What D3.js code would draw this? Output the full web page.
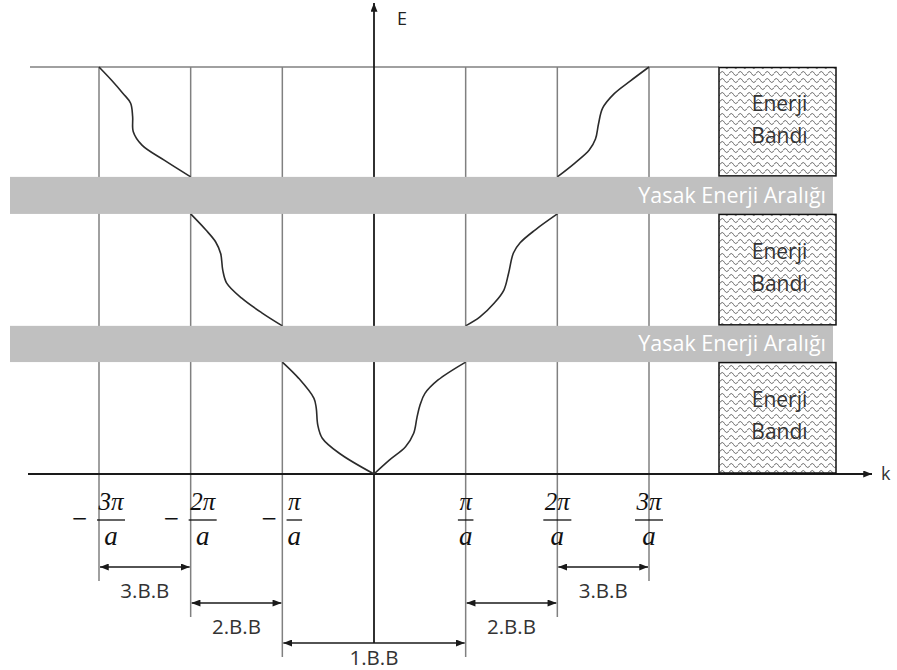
<!DOCTYPE html>
<html>
<head>
<meta charset="utf-8">
<script src="https://cdn.jsdelivr.net/npm/d3@7"></script>
<style>
  html, body { margin: 0; padding: 0; background: #fff; }
  svg { display: block; }
</style>
</head>
<body>
<script>
// Wave vector k in units of π/a, energy E in arbitrary units (0..100)
const zoneBoundaries = [-3, -2, -1, 1, 2, 3];

// Allowed energy bands [bottom, top] and forbidden gaps between them
const allowedBands = [[0, 27.5], [36.4, 63.9], [73, 100]];
const forbiddenGaps = [[27.5, 36.4], [63.9, 73]];
const gapLabel = "Yasak Enerji Aralığı";
const bandLabel = ["Enerji", "Bandı"];

// E(k) branches, one per band and side: [k, E]
const band1Left  = [[-1, 27.5], [-0.821, 23.5], [-0.655, 18.6], [-0.63, 16.2], [-0.613, 12.0], [-0.564, 8.8], [-0.379, 5.1], [0, 0]];
const band1Right = [[0, 0], [0.167, 3.4], [0.344, 6.7], [0.433, 10.0], [0.468, 13.8], [0.503, 17.0], [0.556, 19.8], [0.699, 23.1], [1, 27.5]];
const band2Left  = [[-2, 63.9], [-1.836, 60.0], [-1.727, 57.0], [-1.672, 54.1], [-1.65, 50.1], [-1.607, 46.9], [-1.443, 43.2], [-1.224, 39.6], [-1, 36.4]];
const band2Right = [[1, 36.4], [1.156, 38.6], [1.3125, 42.0], [1.417, 45.2], [1.469, 49.4], [1.521, 54.3], [1.594, 56.8], [1.76, 60.0], [2, 63.9]];
const band3Left  = [[-3, 100], [-2.865, 96.8], [-2.738, 93.5], [-2.655, 91.1], [-2.633, 87.8], [-2.626, 84.1], [-2.531, 80.8], [-2.289, 77.1], [-2, 73]];
const band3Right = [[2, 73], [2.191, 76.4], [2.348, 79.6], [2.416, 82.3], [2.449, 86.0], [2.494, 89.9], [2.618, 93.4], [2.798, 96.6], [3, 100]];
const branches = [band1Left, band1Right, band2Left, band2Right, band3Left, band3Right];

// Brillouin zones: label, k range, dimension row
const zoneNames = ["3.B.B", "2.B.B", "1.B.B", "2.B.B", "3.B.B"];
const zoneFrom  = [-3, -2, -1, 1, 2];
const zoneTo    = [-2, -1, 1, 2, 3];
const zoneRow   = [0, 1, 2, 1, 0];

const W = 897, H = 670;
const svg = d3.select("body").append("svg").attr("width", W).attr("height", H);

const x = d3.scaleLinear().domain([-3, 3]).range([99, 649]);
const y = d3.scaleLinear().domain([0, 100]).range([474, 67]);

const rowY = [567, 603, 643];
const boxX = 719, boxW = 117;
const gridColor = "#808080";
const ink = "#1a1a1a";
const sans = "Open Sans";

const defs = svg.append("defs");
defs.append("marker")
  .attr("id", "head")
  .attr("viewBox", "0 0 10 8")
  .attr("refX", 10).attr("refY", 4)
  .attr("markerWidth", 9).attr("markerHeight", 7)
  .attr("markerUnits", "userSpaceOnUse")
  .attr("orient", "auto-start-reverse")
  .append("path").attr("d", "M0,0 L10,4 L0,8 Z").attr("fill", ink);

const wave = defs.append("pattern")
  .attr("id", "wave").attr("patternUnits", "userSpaceOnUse")
  .attr("width", 9).attr("height", 7);
wave.append("path")
  .attr("d", "M0,3.5 Q2.25,-0.5 4.5,3.5 T9,3.5")
  .attr("fill", "none").attr("stroke", "#5a5a5a").attr("stroke-width", 0.9);

// Zone-boundary grid lines, reaching down past their dimension arrows
const lowestRow = k => d3.max(zoneRow.filter((r, i) => zoneFrom[i] === k || zoneTo[i] === k));
svg.append("g").selectAll("line").data(zoneBoundaries).join("line")
  .attr("x1", d => x(d)).attr("x2", d => x(d))
  .attr("y1", y(100)).attr("y2", d => rowY[lowestRow(d)] + 14)
  .attr("stroke", gridColor).attr("stroke-width", 1.5);

// Top energy line
svg.append("line")
  .attr("x1", 30).attr("x2", boxX).attr("y1", y(100)).attr("y2", y(100))
  .attr("stroke", gridColor).attr("stroke-width", 1.5);

// Axes
svg.append("line")
  .attr("x1", 28).attr("x2", 872).attr("y1", y(0)).attr("y2", y(0))
  .attr("stroke", ink).attr("stroke-width", 1.8)
  .attr("marker-end", "url(#head)");
svg.append("line")
  .attr("x1", x(0)).attr("x2", x(0)).attr("y1", rowY[2]).attr("y2", 3)
  .attr("stroke", ink).attr("stroke-width", 1.8)
  .attr("marker-end", "url(#head)");
svg.append("text").attr("x", x(0) + 23).attr("y", 25)
  .attr("font-family", sans).attr("font-size", 18).attr("fill", "#222").text("E");
svg.append("text").attr("x", 881).attr("y", 480)
  .attr("font-family", sans).attr("font-size", 18).attr("fill", "#333").text("k");

// E(k) curves
const line = d3.line().x(d => x(d[0])).y(d => y(d[1])).curve(d3.curveCatmullRom.alpha(0.5));
svg.append("g").selectAll("path").data(branches).join("path")
  .attr("d", line).attr("fill", "none")
  .attr("stroke", "#2b2b2b").attr("stroke-width", 1.6);

// Forbidden gaps
const gaps = svg.append("g");
gaps.selectAll("rect").data(forbiddenGaps).join("rect")
  .attr("x", 10).attr("width", 823)
  .attr("y", d => y(d[1])).attr("height", d => y(d[0]) - y(d[1]))
  .attr("fill", "#c0c0c0");
gaps.selectAll("text").data(forbiddenGaps).join("text")
  .attr("x", 826).attr("y", d => (y(d[0]) + y(d[1])) / 2 + 7.5)
  .attr("text-anchor", "end")
  .attr("font-family", sans).attr("font-size", 21.5).attr("fill", "#fff")
  .text(gapLabel);

// Allowed band boxes
const boxes = svg.append("g").selectAll("g").data(allowedBands).join("g");
boxes.append("rect")
  .attr("x", boxX).attr("width", boxW)
  .attr("y", d => y(d[1]) + 0.5).attr("height", d => y(d[0]) - y(d[1]) - 1.5)
  .attr("fill", "url(#wave)").attr("stroke", "#111").attr("stroke-width", 1.5);
boxes.each(function(d) {
  const mid = (y(d[0]) + y(d[1])) / 2;
  const g = d3.select(this);
  bandLabel.forEach((t, i) => {
    g.append("text")
      .attr("x", boxX + boxW / 2 + 2).attr("y", mid + (i === 0 ? -11 : 21))
      .attr("text-anchor", "middle")
      .attr("font-family", sans).attr("font-size", 21).attr("fill", "#333")
      .text(t);
  });
});

// Zone-boundary tick labels as fractions ±nπ/a
const ticks = svg.append("g").attr("font-family", "Liberation Serif").attr("font-style", "italic").attr("fill", "#111");
zoneBoundaries.forEach(k => {
  const cx = x(k) + (k < 0 ? 12 : 0);
  const num = ticks.append("text")
    .attr("x", cx).attr("y", 510).attr("text-anchor", "middle").attr("font-size", 25)
    .text((Math.abs(k) === 1 ? "" : Math.abs(k)) + "π");
  const w = num.node().getComputedTextLength() + 3;
  ticks.append("line")
    .attr("x1", cx - w / 2).attr("x2", cx + w / 2).attr("y1", 520).attr("y2", 520)
    .attr("stroke", "#111").attr("stroke-width", 1.3);
  ticks.append("text")
    .attr("x", cx).attr("y", 545).attr("text-anchor", "middle").attr("font-size", 27)
    .text("a");
  if (k < 0) {
    ticks.append("text")
      .attr("x", cx - w / 2 - 9).attr("y", 525).attr("text-anchor", "end")
      .attr("font-family", "DejaVu Sans").attr("font-style", "normal").attr("font-size", 20)
      .text("−");
  }
});

// Brillouin-zone dimension arrows
const zones = svg.append("g");
zoneNames.forEach((name, i) => {
  const yy = rowY[zoneRow[i]];
  zones.append("line")
    .attr("x1", x(zoneFrom[i]) + 1).attr("x2", x(zoneTo[i]) - 1)
    .attr("y1", yy).attr("y2", yy)
    .attr("stroke", ink).attr("stroke-width", 1.6)
    .attr("marker-start", "url(#head)").attr("marker-end", "url(#head)");
  zones.append("text")
    .attr("x", (x(zoneFrom[i]) + x(zoneTo[i])) / 2).attr("y", yy + (zoneRow[i] === 2 ? 22 : 31))
    .attr("text-anchor", "middle")
    .attr("font-family", sans).attr("font-size", 20.5).attr("fill", "#333")
    .text(name);
});
</script>
</body>
</html>
